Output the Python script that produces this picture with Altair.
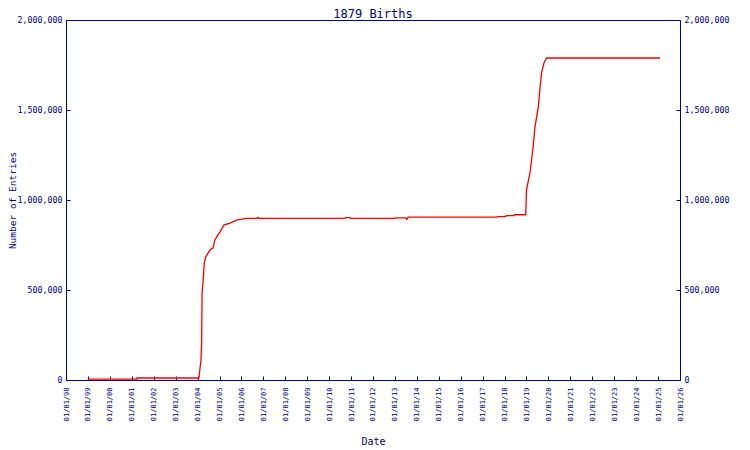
import altair as alt
import pandas as pd

NAVY = "#000080"
FONT = "DejaVu Sans Mono"

dates = [
    "1999-01-01", "2001-03-26", "2001-03-27", "2004-01-08", "2004-01-24",
    "2004-02-27", "2004-03-09", "2004-03-17", "2004-04-04", "2004-04-22",
    "2004-05-14", "2004-07-27", "2004-09-13", "2004-10-16", "2004-12-06",
    "2005-01-08", "2005-03-15", "2005-06-25", "2005-10-20", "2006-04-01",
    "2006-09-13", "2006-10-01", "2006-10-19", "2010-09-20", "2010-10-01",
    "2010-12-13", "2010-12-24", "2013-01-01", "2013-01-08", "2013-07-01",
    "2013-07-19", "2013-08-08", "2017-08-25", "2017-09-02", "2018-01-19",
    "2018-01-26", "2018-06-03", "2018-06-10", "2018-12-20", "2019-01-01",
    "2019-02-28", "2019-04-20", "2019-05-23", "2019-07-17", "2019-08-11",
    "2019-09-09", "2019-10-19", "2019-12-02", "2025-02-03",
]
entries = [
    5000, 5000, 11000, 11000, 11000,
    111000, 206000, 483000, 556000, 650000,
    683000, 722000, 733000, 778000, 806000,
    822000, 861000, 872000, 889000, 898000,
    898000, 903000, 898000, 898000, 902000,
    902000, 898000, 898000, 901000, 901000,
    892000, 905000, 905000, 908000, 908000,
    913000, 913000, 918000, 918000, 1056000,
    1150000, 1290000, 1406000, 1517000, 1610000,
    1706000, 1761000, 1789000, 1789000,
]

x_tick_years = list(range(1998, 2027))
y_ticks = [0, 500000, 1000000, 1500000, 2000000]

df = pd.DataFrame({"date": dates, "entries": entries})

x_scale = alt.Scale(
    type="utc",
    domain=[alt.DateTime(year=1998, month=1, date=1, utc=True),
            alt.DateTime(year=2026, month=1, date=1, utc=True)],
)
y_scale = alt.Scale(domain=[0, 2000000], nice=False)

x_axis = alt.Axis(
    values=[alt.DateTime(year=y, month=1, date=1, utc=True) for y in x_tick_years],
    format="%m/%d/%y", labelAngle=270, labelFont=FONT, labelFontSize=7,
    labelColor=NAVY, tickColor=NAVY, tickSize=4, offset=-4, domain=False,
    labelPadding=7, grid=False, title="Date", titleFont=FONT, titleFontSize=10,
    titleColor=NAVY, titleFontWeight="normal", titlePadding=16,
    labelOverlap=False, labelFlush=False, labelBound=False,
)
left_axis = alt.Axis(
    values=y_ticks, format=",.0f", labelFont=FONT, labelFontSize=8.3,
    labelColor=NAVY, tickColor=NAVY, tickSize=4, offset=-4, domain=False,
    labelPadding=4, grid=False, title="Number of Entries", titleFont=FONT,
    titleFontSize=9.5, titleColor=NAVY, titleFontWeight="normal", titlePadding=0,
    labelOverlap=False, labelFlush=False,
)
right_axis = alt.Axis(
    orient="right", values=y_ticks, format=",.0f", labelFont=FONT, labelFontSize=8.3,
    labelColor=NAVY, tickColor=NAVY, tickSize=4, offset=-4, domain=False,
    labelPadding=4, grid=False, title=None, labelOverlap=False, labelFlush=False,
)

base = alt.Chart(df)
line = base.mark_line(color="#ff0000", strokeWidth=1.3, interpolate="linear").encode(
    x=alt.X("date:T", scale=x_scale, axis=x_axis),
    y=alt.Y("entries:Q", scale=y_scale, axis=left_axis),
)
ghost = base.mark_line(opacity=0).encode(
    x=alt.X("date:T", scale=x_scale, axis=x_axis),
    y=alt.Y("entries:Q", scale=y_scale, axis=right_axis),
)

chart = alt.layer(line, ghost).resolve_axis(y="independent").properties(
    width=614, height=360,
    background="white",
    title=alt.TitleParams("1879 Births", font=FONT, fontSize=12, color=NAVY,
                          fontWeight="normal", offset=-6),
    autosize=alt.AutoSizeParams(type="none"),
    padding={"left": 58, "top": 12, "right": 54, "bottom": 66},
).configure_view(stroke=NAVY, strokeWidth=1)

chart.save("out.html", embed_options={"renderer": "svg", "actions": False})
